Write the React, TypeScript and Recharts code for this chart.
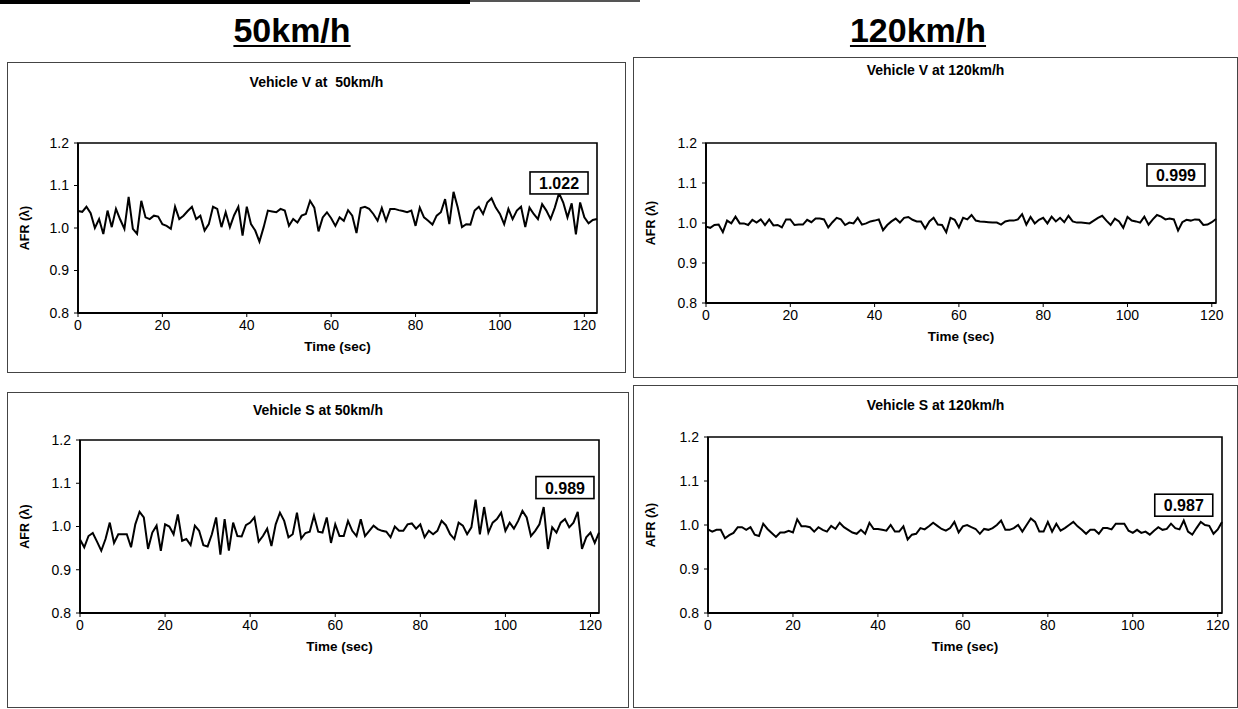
import React from 'react';
import {
  Label,
  Line,
  LineChart,
  ReferenceArea,
  ReferenceDot,
  XAxis,
  YAxis,
} from 'recharts';

// Tick labels shared by all four panels
const timeTicks = [0, 20, 40, 60, 80, 100, 120];
const afrTicks = [0.8, 0.9, 1.0, 1.1, 1.2];

const vehicleV50 = [
  1.040, 1.038, 1.050, 1.035, 1.000, 1.021, 0.986, 1.041, 1.002, 1.045,
  1.020, 0.998, 1.073, 0.998, 0.986, 1.064, 1.025, 1.021, 1.029, 1.027,
  1.009, 1.005, 0.998, 1.050, 1.021, 1.029, 1.040, 1.050, 1.021, 1.029,
  0.994, 1.009, 1.050, 1.045, 1.002, 1.037, 1.002, 1.030, 1.050, 0.982,
  1.050, 1.009, 0.994, 0.968, 1.002, 1.041, 1.039, 1.037, 1.045, 1.041,
  1.005, 1.021, 1.013, 1.029, 1.033, 1.064, 1.048, 0.992, 1.025, 1.037,
  1.023, 1.005, 1.025, 1.017, 1.042, 1.029, 0.988, 1.047, 1.050, 1.045,
  1.033, 1.017, 1.047, 1.017, 1.045, 1.045, 1.042, 1.040, 1.037, 1.041,
  1.005, 1.048, 1.025, 1.017, 1.008, 1.029, 1.037, 1.068, 1.009, 1.085,
  1.048, 1.002, 1.009, 1.008, 1.041, 1.050, 1.033, 1.060, 1.070, 1.048,
  1.033, 1.009, 1.045, 1.021, 1.041, 1.050, 1.002, 1.048, 1.033, 1.021,
  1.056, 1.041, 1.021, 1.048, 1.082, 1.060, 1.025, 1.058, 0.985, 1.060,
  1.025, 1.011, 1.019, 1.021,
];

const vehicleV120 = [
  0.991, 0.988, 0.995, 0.996, 0.977, 1.006, 0.999, 1.016, 0.999, 0.999,
  0.995, 1.008, 1.001, 1.009, 0.995, 1.009, 0.994, 0.995, 0.989, 1.009,
  1.009, 0.995, 0.996, 0.996, 1.008, 1.002, 1.011, 1.011, 1.009, 0.989,
  1.002, 1.013, 1.009, 0.995, 1.001, 0.999, 1.013, 0.996, 0.999, 1.004,
  1.006, 1.009, 0.982, 0.995, 1.004, 1.011, 1.001, 1.013, 1.015, 1.008,
  1.004, 1.004, 0.986, 1.004, 1.013, 0.996, 0.995, 0.977, 1.013, 1.008,
  0.989, 1.013, 1.009, 1.020, 1.006, 1.004, 1.003, 1.002, 1.001, 1.001,
  0.996, 1.004, 1.006, 1.006, 1.009, 1.022, 0.996, 1.015, 0.999, 1.008,
  1.013, 0.999, 1.016, 1.004, 1.013, 1.002, 1.018, 1.004, 1.001, 1.001,
  1.000, 0.999, 1.006, 1.013, 1.018, 1.006, 0.995, 1.011, 1.004, 0.988,
  1.015, 1.006, 1.004, 1.001, 1.016, 0.996, 1.009, 1.020, 1.016, 1.009,
  1.011, 1.009, 0.981, 1.002, 1.008, 1.006, 1.009, 1.008, 0.995, 0.996,
  1.002, 1.010,
];

const vehicleS50 = [
  0.970, 0.952, 0.978, 0.985, 0.965, 0.944, 0.971, 1.009, 0.962, 0.982,
  0.982, 0.982, 0.952, 1.005, 1.034, 1.021, 0.948, 0.986, 1.002, 0.944,
  1.005, 1.000, 0.982, 1.028, 0.967, 0.971, 0.957, 1.002, 0.990, 0.957,
  0.954, 0.982, 1.021, 0.935, 1.017, 0.944, 1.009, 0.978, 0.977, 1.003,
  1.009, 1.021, 0.965, 0.978, 0.995, 0.955, 1.005, 1.032, 1.013, 0.975,
  0.982, 1.032, 0.972, 0.985, 0.988, 1.025, 0.988, 0.986, 1.021, 0.962,
  1.005, 0.978, 0.978, 1.013, 0.990, 0.978, 1.017, 0.978, 0.990, 1.002,
  0.994, 0.990, 0.988, 0.975, 1.000, 0.990, 0.990, 1.005, 1.007, 0.995,
  1.005, 0.975, 0.990, 0.982, 0.990, 1.013, 1.003, 0.982, 0.971, 1.009,
  1.002, 0.982, 0.998, 1.062, 0.982, 1.045, 0.986, 1.009, 1.017, 1.032,
  0.990, 1.009, 0.995, 1.013, 1.036, 1.021, 0.978, 0.990, 1.005, 1.045,
  0.948, 0.998, 0.986, 1.009, 1.017, 0.998, 1.009, 1.034, 0.948, 0.975,
  0.986, 0.962, 0.986,
];

const vehicleS120 = [
  0.990, 0.985, 0.989, 0.989, 0.970, 0.977, 0.982, 0.995, 0.995, 0.989,
  0.995, 0.978, 0.975, 1.003, 0.991, 0.982, 0.973, 0.983, 0.983, 0.987,
  0.983, 1.013, 0.997, 0.997, 0.995, 0.985, 0.995, 0.989, 0.985, 0.998,
  0.991, 1.005, 0.995, 0.989, 0.983, 0.980, 0.989, 0.980, 1.005, 0.991,
  0.991, 0.989, 0.987, 1.000, 0.985, 0.985, 0.997, 0.967, 0.978, 0.980,
  0.993, 0.990, 0.997, 1.005, 0.998, 0.991, 0.987, 0.993, 1.007, 0.983,
  0.997, 1.000, 0.995, 0.991, 0.980, 0.991, 0.989, 0.993, 1.000, 1.010,
  0.989, 0.989, 0.993, 1.000, 0.985, 1.000, 1.015, 1.007, 0.985, 0.985,
  1.007, 0.985, 1.003, 0.987, 0.993, 1.000, 1.007, 0.997, 0.989, 0.980,
  0.989, 0.989, 0.980, 0.993, 0.993, 0.990, 1.003, 1.003, 1.003, 0.987,
  0.982, 0.989, 0.982, 0.985, 0.978, 0.987, 0.995, 0.989, 0.991, 1.003,
  0.993, 0.990, 1.010, 0.985, 0.978, 0.993, 1.007, 1.000, 0.998, 0.980,
  0.990, 1.007,
];

const meanV50 = '1.022';
const meanV120 = '0.999';
const meanS50 = '0.989';
const meanS120 = '0.987';

const FONT = '"Liberation Sans", Arial, Helvetica, sans-serif';

type Box = { left: number; top: number; width: number; height: number };
type Plot = { left: number; top: number; right: number; bottom: number };

type PanelProps = {
  title: string;
  values: number[];
  mean: string;
  note: { t: number; afr: number };
  box: Box;
  plot: Plot;
  titleTop: number;
};

function Panel({ title, values, mean, note, box, plot, titleTop }: PanelProps) {
  const rows = values.map((afr, t) => ({ t, afr }));
  const xMax = values.length - 1;

  // chart fills the inside of the bordered panel
  const innerLeft = box.left + 1;
  const innerTop = box.top + 1;
  const w = box.width - 2;
  const h = box.height - 2;
  const yAxisWidth = plot.left - innerLeft;
  const marginTop = plot.top - innerTop;
  const marginRight = innerLeft + w - plot.right;
  const xAxisHeight = innerTop + h - plot.bottom;

  return (
    <div
      style={{
        position: 'absolute',
        left: box.left,
        top: box.top,
        width: box.width - 2,
        height: box.height - 2,
        border: '1px solid #444',
        background: '#fff',
      }}
    >
      <div
        style={{
          position: 'absolute',
          top: titleTop - innerTop - 8,
          left: 0,
          width: '100%',
          textAlign: 'center',
          fontFamily: FONT,
          fontWeight: 700,
          fontSize: 14,
          lineHeight: '16px',
          whiteSpace: 'pre',
        }}
      >
        {title}
      </div>
      <div style={{ position: 'absolute', left: 0, top: 0 }}>
        <LineChart
          width={w}
          height={h}
          data={rows}
          margin={{ top: marginTop, right: marginRight, left: 0, bottom: 0 }}
          style={{ fontFamily: FONT }}
        >
          <XAxis
            dataKey="t"
            type="number"
            domain={[0, xMax]}
            ticks={timeTicks}
            height={xAxisHeight}
            tickSize={4}
            tickMargin={3}
            tick={{ fill: '#000', fontSize: 14 }}
            tickLine={{ stroke: '#000' }}
            axisLine={{ stroke: '#000', strokeWidth: 1.8 }}
          >
            <Label
              value="Time (sec)"
              position="insideTop"
              offset={28}
              style={{ fontWeight: 700, fontSize: 13.5, fill: '#000' }}
            />
          </XAxis>
          <YAxis
            type="number"
            domain={[0.8, 1.2]}
            ticks={afrTicks}
            width={yAxisWidth}
            tickSize={4}
            tickMargin={5}
            tickFormatter={(v: number) => v.toFixed(1)}
            tick={{ fill: '#000', fontSize: 14 }}
            tickLine={{ stroke: '#000' }}
            axisLine={{ stroke: '#000', strokeWidth: 1.8 }}
          >
            <Label
              value="AFR (λ)"
              angle={-90}
              position="insideLeft"
              offset={17}
              style={{ textAnchor: 'middle', fontWeight: 700, fontSize: 12.5, fill: '#000' }}
            />
          </YAxis>
          <ReferenceArea
            x1={0}
            x2={xMax}
            y1={0.8}
            y2={1.2}
            fill="none"
            stroke="#000"
            strokeWidth={1.6}
            ifOverflow="visible"
          />
          <Line
            type="linear"
            dataKey="afr"
            stroke="#000"
            strokeWidth={2}
            dot={false}
            isAnimationActive={false}
          />
          <ReferenceDot
            x={note.t}
            y={note.afr}
            ifOverflow="visible"
            shape={(p: { cx?: number; cy?: number }) => {
              const cx = p.cx ?? 0;
              const cy = p.cy ?? 0;
              return (
                <g>
                  <rect
                    x={cx - 29}
                    y={cy - 11}
                    width={58}
                    height={22}
                    fill="#fff"
                    stroke="#000"
                    strokeWidth={1.6}
                  />
                  <text
                    x={cx}
                    y={cy + 6}
                    textAnchor="middle"
                    fontFamily={FONT}
                    fontWeight={700}
                    fontSize={16}
                    fill="#000"
                  >
                    {mean}
                  </text>
                </g>
              );
            }}
          />
        </LineChart>
      </div>
    </div>
  );
}

function SpeedHeading({ text, center }: { text: string; center: number }) {
  return (
    <div
      style={{
        position: 'absolute',
        top: 10,
        left: center - 100,
        width: 200,
        textAlign: 'center',
        fontFamily: FONT,
        fontWeight: 700,
        fontSize: 34,
        lineHeight: '40px',
        textDecoration: 'underline',
        textDecorationThickness: 2,
        textUnderlineOffset: 3,
      }}
    >
      {text}
    </div>
  );
}

export default function App() {
  return (
    <div
      style={{
        position: 'absolute',
        left: 0,
        top: 0,
        width: 1238,
        height: 709,
        background: '#fff',
        overflow: 'hidden',
        color: '#000',
      }}
    >
      <div style={{ position: 'absolute', left: 0, top: 0, width: 470, height: 4, background: '#000' }} />
      <div style={{ position: 'absolute', left: 470, top: 0, width: 170, height: 2, background: '#555' }} />

      <SpeedHeading text="50km/h" center={292} />
      <SpeedHeading text="120km/h" center={918} />

      <Panel
        title="Vehicle V at  50km/h"
        values={vehicleV50}
        mean={meanV50}
        note={{ t: 114, afr: 1.106 }}
        box={{ left: 7, top: 62, width: 619, height: 311 }}
        plot={{ left: 78, top: 143, right: 597, bottom: 313 }}
        titleTop={82}
      />
      <Panel
        title="Vehicle V at 120km/h"
        values={vehicleV120}
        mean={meanV120}
        note={{ t: 111.5, afr: 1.12 }}
        box={{ left: 633, top: 57, width: 605, height: 321 }}
        plot={{ left: 706, top: 143, right: 1216, bottom: 303 }}
        titleTop={70}
      />
      <Panel
        title="Vehicle S at 50km/h"
        values={vehicleS50}
        mean={meanS50}
        note={{ t: 114, afr: 1.09 }}
        box={{ left: 7, top: 392, width: 622, height: 316 }}
        plot={{ left: 80, top: 440, right: 599, bottom: 613 }}
        titleTop={410}
      />
      <Panel
        title="Vehicle S at 120km/h"
        values={vehicleS120}
        mean={meanS120}
        note={{ t: 112, afr: 1.045 }}
        box={{ left: 633, top: 385, width: 605, height: 323 }}
        plot={{ left: 708, top: 437, right: 1222, bottom: 613 }}
        titleTop={405}
      />
    </div>
  );
}
